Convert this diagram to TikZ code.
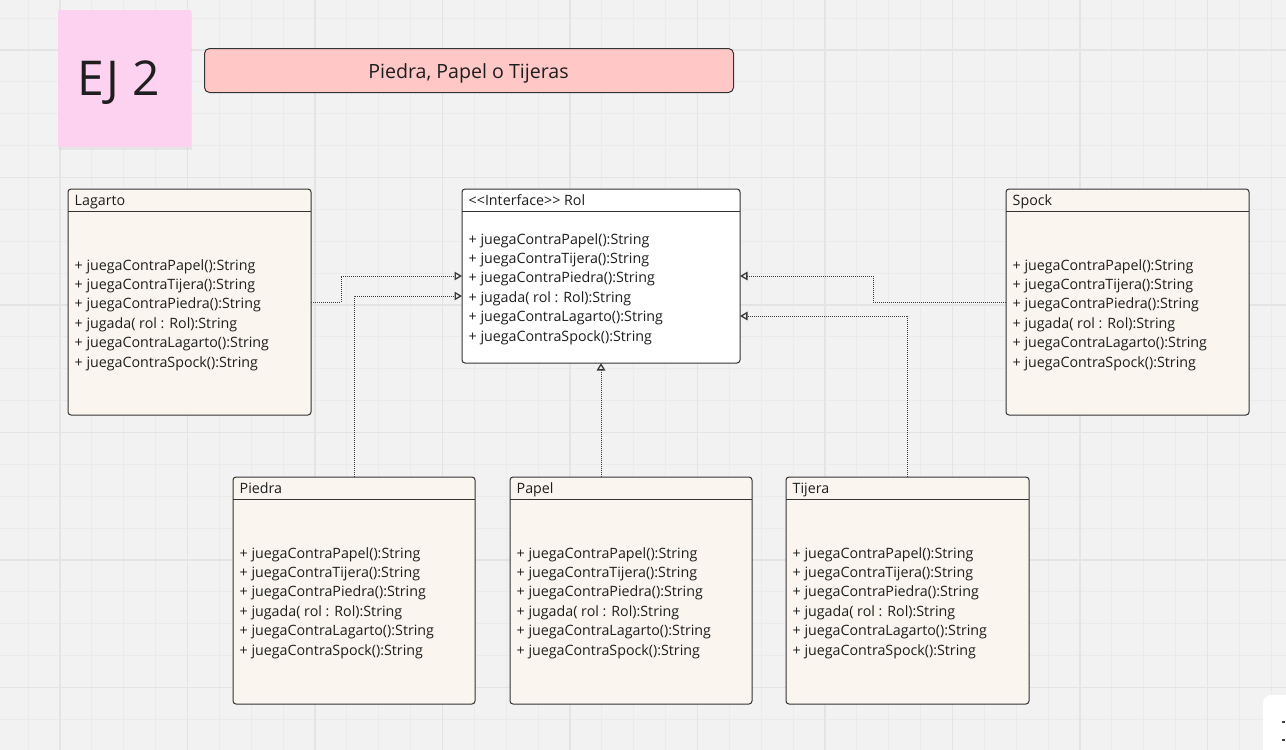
\documentclass[tikz,border=0pt]{standalone}
\usepackage{fontspec}
\setmainfont{Open Sans}
\usetikzlibrary{arrows.meta,calc}
\definecolor{bg}{HTML}{F2F2F2}
\definecolor{minorg}{HTML}{EBEBEB}
\definecolor{majorg}{HTML}{E4E4E4}
\definecolor{sticky}{HTML}{FDD1F0}
\definecolor{titlefill}{HTML}{FFC7C6}
\definecolor{classfill}{HTML}{FAF6EF}
\definecolor{boxline}{HTML}{333333}
\definecolor{txtc}{HTML}{1E1E1E}
\definecolor{connc}{HTML}{3A3A3A}
\newcommand\umlclass[7]{%
  \node[classbox, fill=#6, minimum width=#4, minimum height=#5] (#1) at (#2,#3) {};
  \draw[draw=boxline, line width=1pt] ([yshift=-22pt]#1.north west) -- ([yshift=-22pt]#1.north east);
  \node[txt] (#1-title) at ($(#1.north west)+(6.5,16)$) {#7};
}
\newcommand\umlmethods[2]{%
  \foreach \t [count=\i from 0] in {+ juegaContraPapel():String, + juegaContraTijera():String, + juegaContraPiedra():String, + jugada( rol : Rol):String, + juegaContraLagarto():String, + juegaContraSpock():String} {
    \node[txt] (#1-m\i) at ($(#1.north west)+(6.5,#2+5+19.4*\i)$) {\t};
  }
}
\begin{document}
\begin{tikzpicture}[x=1pt,y=-1pt,
  classbox/.style={draw=boxline, line width=1pt, rounded corners=3pt, inner sep=0pt, outer sep=0pt, anchor=north west},
  txt/.style={anchor=base west, inner sep=0pt, font=\fontsize{14.25}{16}\selectfont, text=txtc},
  conn/.style={draw=connc, line width=1pt, dash pattern=on 1pt off 1pt, -{Triangle[open,length=7.5pt,width=8.5pt,line width=1.3pt]}},
  minorline/.style={draw=minorg, line width=1pt},
  majorline/.style={draw=majorg, line width=1.5pt},
]
\useasboundingbox (0,0) rectangle (1286,750);
\fill[bg] (0,0) rectangle (1286,750);
% grid
\foreach \k in {-1,...,38} {
  \draw[minorline] (60+31.875*\k,0) -- (60+31.875*\k,750);
}
\foreach \k in {-1,...,21} {
  \draw[minorline] (0,50+31.875*\k) -- (1286,50+31.875*\k);
}
\foreach \k in {0,...,9} {
  \draw[majorline] (60+127.5*\k,0) -- (60+127.5*\k,750);
}
\foreach \k in {0,...,5} {
  \draw[majorline] (0,50+127.5*\k) -- (1286,50+127.5*\k);
}
% sticky note
\fill[black, opacity=0.05] (59,12) rectangle (192,150);
\node[fill=sticky, minimum width=133, minimum height=137, inner sep=0pt, anchor=north west] (ej) at (58,10) {};
\node[font=\fontsize{48}{58}\selectfont, text=txtc, inner sep=0pt, anchor=base] (ejT) at (118.5,95.5) {EJ 2};
% title
\node[draw=boxline, line width=1pt, fill=titlefill, rounded corners=5pt, minimum width=529, minimum height=44, inner sep=0pt, anchor=north west] (title) at (204,48) {};
\node[font=\fontsize{19.6}{22}\selectfont, text=txtc, inner sep=0pt, anchor=base] (titleT) at (468.5,78) {Piedra, Papel o Tijeras};
% classes
\umlclass{lag}{68}{189}{243}{226}{classfill}{Lagarto}
\umlmethods{lag}{76}
\umlclass{rol}{462}{189}{278}{174}{white}{{<}{<}Interface{>}{>} Rol}
\umlmethods{rol}{50}
\umlclass{spk}{1006}{189}{243}{226}{classfill}{Spock}
\umlmethods{spk}{76}
\umlclass{pie}{233}{477}{242}{227}{classfill}{Piedra}
\umlmethods{pie}{76}
\umlclass{pap}{510}{477}{242}{227}{classfill}{Papel}
\umlmethods{pap}{76}
\umlclass{tij}{786}{477}{243}{227}{classfill}{Tijera}
\umlmethods{tij}{76}
% connectors
\draw[conn] (lag.east) -- ++(30,0) |- (rol.west);
\draw[conn] (pie.north) |- ($(rol.west)+(0,20)$);
\draw[conn] (rol.south |- pap.north) -- (rol.south);
\draw[conn] (spk.west) -- ++(-133,0) |- (rol.east);
\draw[conn] (tij.north) |- ($(rol.east)+(0,40)$);
% corner widget
\fill[white, rounded corners=8pt] (1263,695) rectangle (1300,770);
\fill[black!75] (1282,720.5) rectangle (1285,723);
\fill[black!75] (1282,738.5) rectangle (1285,741);
\end{tikzpicture}
\end{document}
